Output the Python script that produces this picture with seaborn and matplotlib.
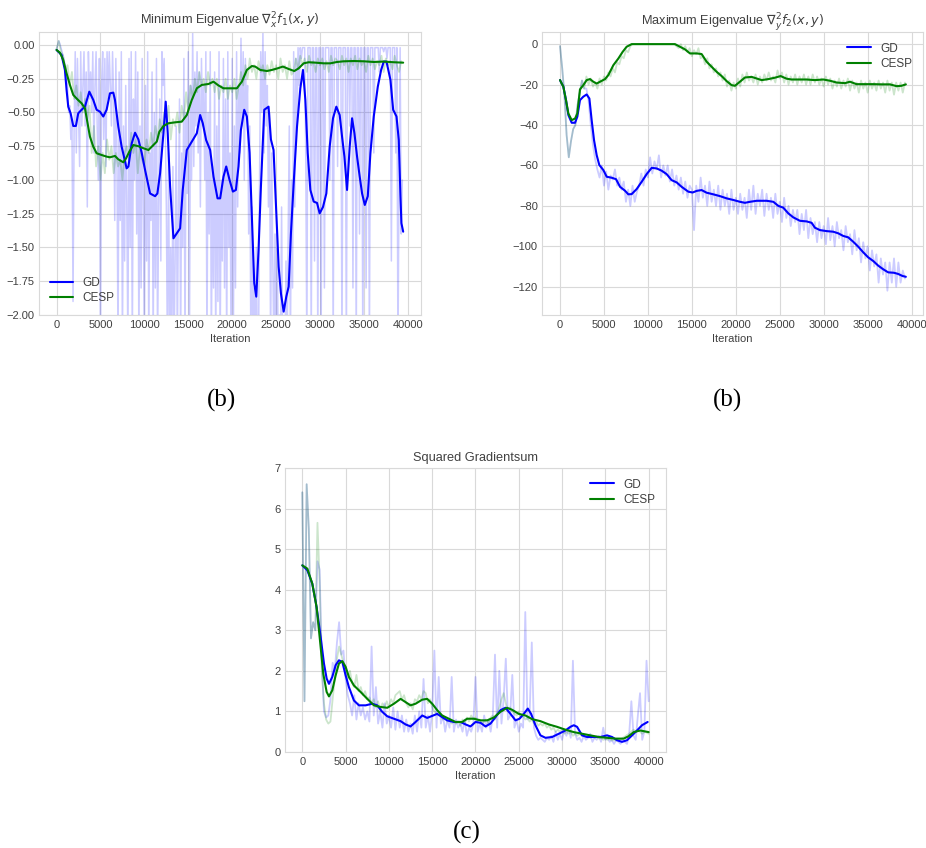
import numpy as np
import pandas as pd
import matplotlib
matplotlib.use("Agg")
import matplotlib.pyplot as plt
import matplotlib.ticker as mticker
import seaborn as sns

# ---------------------------------------------------------------------------
# Data
# ---------------------------------------------------------------------------
RAW_STEP = 250       # raw curves are logged every 250 iterations ...
RAW_STEP_FINE = 125  # ... except the minimum-eigenvalue GD run

# --- Minimum eigenvalue of the Hessian of f1 ---------------------------------
min_gd_raw = [
    -0.03, 0.0, 0.03, 0.01, -0.02, -0.05, -0.08, -0.12,
    -0.15, -0.25, -0.3, -0.5, -0.45, -0.7, -0.55, -1.9,
    -0.6, -0.05, -0.8, -0.1, -0.5, -0.9, -0.05, -0.6,
    -0.3, -0.05, -0.6, -0.2, -1.2, -0.05, -0.4, -0.2,
    -0.5, -0.05, -0.8, -0.3, -0.05, -0.6, -1.0, -0.1,
    -2.4, -0.3, -0.05, -0.7, -0.1, -0.9, -0.05, -0.4,
    -0.05, -0.3, -0.6, -0.05, -0.4, -1.3, -0.1, -0.8,
    -2.3, -0.2, -1.3, -0.05, -2.3, -0.6, -1.6, -0.3,
    -1.2, -2.3, -0.1, -1.5, -0.05, -2.3, -0.4, -1.0,
    -0.05, -1.4, -0.2, -2.3, -0.6, -1.8, -0.1, -1.2,
    -2.3, -0.3, -1.6, -0.05, -2.3, -0.8, -1.3, -0.2,
    -2.3, -0.5, -1.8, -0.1, -2.3, -1.2, -0.4, -1.6,
    -0.05, -0.3, -0.1, -0.6, -1.2, -2.3, -0.8, -2.3,
    -1.5, -2.3, -0.9, -2.3, -1.6, -0.6, -2.3, -1.2,
    -0.4, -2.3, -0.8, -1.5, -0.1, -2.3, -0.5, -1.1,
    -0.05, -2.4, -0.3, -1.0, 0.1, -0.9, -0.2, -0.6,
    -0.05, -0.8, -0.2, -1.2, -0.1, -0.6, -0.3, -1.0,
    -0.05, -2.3, -0.5, -1.4, -0.05, -2.3, -0.9, -1.8,
    -0.2, -2.3, -0.6, -1.9, -0.05, -2.3, -1.0, -1.6,
    -0.1, -1.8, -0.4, -2.3, -0.05, -1.5, -0.8, -2.3,
    -0.1, -2.3, -0.6, -1.8, -0.05, -1.2, -0.3, -0.8,
    0.05, -0.6, -0.05, -1.0, -0.1, -0.5, -0.3, -1.4,
    -0.6, -2.3, -1.2, -2.3, -1.8, -2.3, -1.5, -2.3,
    -2.3, -0.9, -0.05, -0.5, 0.12, -0.8, -0.05, -0.6,
    -0.3, -1.2, -0.5, -2.3, -0.8, -1.6, -2.3, -1.4,
    -2.3, -1.5, -2.3, -2.0, -2.3, -1.2, -2.3, -2.3,
    -2.3, -1.6, -2.3, -1.4, -0.6, -2.3, -1.0, -1.8,
    -0.05, -1.2, -0.1, -0.6, -0.02, -0.3, -0.02, -0.1,
    -0.02, -0.02, -0.02, -0.8, -2.3, -0.02, -0.02, -0.02,
    -2.3, -0.02, -0.02, -1.6, -0.02, -0.02, -2.3, -0.02,
    -0.02, -2.3, -0.02, -0.02, -1.8, -0.02, -0.02, -0.02,
    -0.02, -1.0, -0.02, -0.02, -2.3, -0.02, -0.02, -0.02,
    -0.9, -0.02, -0.02, -0.02, -2.3, -0.02, -0.02, -0.02,
    -2.3, -0.02, -0.02, -0.6, -0.02, -0.02, -1.8, -0.02,
    -0.02, -2.3, -0.02, -0.02, -1.4, -0.02, -0.02, -2.3,
    -0.02, -0.02, -1.8, -0.02, -0.02, -2.3, -0.02, -0.02,
    -0.02, -0.8, -0.02, -0.02, -0.02, -0.02, -0.2, -0.02,
    -0.02, -0.02, -0.05, -0.02, -0.02, -0.1, -0.02, -0.02,
    -0.02, -1.6, -0.02, -0.02, -0.02, -0.8, -0.02, -2.3,
    -1.0, -0.02, -1.4, -1.0,
]
min_cesp_raw = [
    -0.03, 0.03, -0.05, -0.08, -0.2, -0.15, -0.3, -0.2,
    -0.4, -0.3, -0.45, -0.35, -0.5, -0.4, -0.55, -0.45,
    -0.8, -0.6, -0.9, -0.75, -1.0, -0.8, -0.95, -0.7,
    -0.85, -0.75, -0.95, -0.8, -0.9, -0.85, -1.0, -0.8,
    -0.75, -0.85, -0.65, -0.8, -0.7, -0.95, -0.75, -0.85,
    -0.9, -0.7, -0.8, -0.65, -0.75, -0.6, -0.7, -0.55,
    -0.65, -0.5, -0.6, -0.45, -0.7, -0.55, -0.6, -0.5,
    -0.65, -0.45, -0.55, -0.35, -0.5, -0.3, -0.4, -0.25,
    -0.35, -0.2, -0.3, -0.25, -0.35, -0.2, -0.3, -0.25,
    -0.35, -0.25, -0.4, -0.3, -0.35, -0.25, -0.4, -0.3,
    -0.35, -0.25, -0.4, -0.3, -0.2, -0.3, -0.15, -0.25,
    -0.1, -0.2, -0.15, -0.25, -0.12, -0.2, -0.15, -0.25,
    -0.15, -0.22, -0.12, -0.2, -0.15, -0.25, -0.1, -0.2,
    -0.15, -0.25, -0.12, -0.22, -0.2, -0.1, -0.18, -0.08,
    -0.15, -0.1, -0.2, -0.08, -0.15, -0.12, -0.2, -0.1,
    -0.15, -0.1, -0.18, -0.12, -0.2, -0.08, -0.15, -0.1,
    -0.12, -0.18, -0.08, -0.15, -0.1, -0.2, -0.1, -0.15,
    -0.08, -0.18, -0.1, -0.15, -0.12, -0.2, -0.08, -0.15,
    -0.1, -0.18, -0.12, -0.15, -0.08, -0.2, -0.1, -0.15,
    -0.12, -0.18, -0.08, -0.15, -0.2, -0.12,
]
min_gd_iter = [
    0, 570, 950, 1140, 1330, 1600, 1900, 2200, 2470, 2850, 3230, 3730, 4180,
    4560, 4940, 5320, 5700, 6080, 6460, 6650, 7030, 7410, 7980, 8180, 8560,
    8940, 9320, 9700, 10080, 10650, 11220, 11480, 11790, 12170, 12430, 12660,
    12930, 13310, 13690, 14070, 14370, 14830, 15400, 15970, 16350, 16650,
    17030, 17490, 17870, 18330, 18630, 19010, 19320, 19700, 20080, 20420,
    20720, 20990, 21370, 21670, 21980, 22240, 22510, 22740, 23000, 23270,
    23650, 24140, 24410, 24710, 24940, 25290, 25550, 25860, 26160, 26430,
    26690, 27000, 27380, 27760, 28060, 28330, 28600, 28900, 29280, 29660,
    29960, 30340, 30720, 31100, 31480, 31860, 32240, 32510, 32780, 33080,
    33380, 33650, 33920, 34220, 34520, 34790, 35100, 35440, 35740, 36120,
    36580, 36960, 37260, 37570, 38020, 38330, 38710, 38970, 39160, 39270,
    39470,
]
min_gd_smooth = [
    -0.037, -0.074, -0.185, -0.333, -0.457, -0.506, -0.6, -0.6, -0.506,
    -0.48, -0.457, -0.346, -0.407, -0.48, -0.494, -0.53, -0.48, -0.358,
    -0.353, -0.407, -0.605, -0.753, -0.914, -0.9, -0.728, -0.65, -0.70,
    -0.80, -0.926, -1.1, -1.12, -1.1, -0.95, -0.654, -0.42, -0.654, -1.05,
    -1.432, -1.395, -1.358, -1.074, -0.778, -0.716, -0.654, -0.519, -0.58,
    -0.704, -0.778, -0.975, -1.136, -1.136, -0.975, -0.9, -1.0, -1.086,
    -1.074, -0.90, -0.63, -0.48, -0.53, -0.80, -1.27, -1.765, -1.864, -1.52,
    -1.05, -0.48, -0.457, -0.70, -0.778, -1.12, -1.642, -1.84, -1.975,
    -1.864, -1.79, -1.395, -1.025, -0.605, -0.321, -0.185, -0.407, -0.80,
    -1.074, -1.16, -1.17, -1.247, -1.2, -1.1, -0.753, -0.543, -0.457,
    -0.519, -0.679, -0.827, -1.074, -0.753, -0.543, -0.654, -0.827, -0.975,
    -1.1, -1.185, -1.12, -0.80, -0.53, -0.309, -0.185, -0.123, -0.123,
    -0.259, -0.48, -0.53, -0.704, -1.12, -1.32, -1.383,
]
min_cesp_iter = [
    0, 380, 760, 1140, 1520, 1900, 2360, 2850, 3230, 3500, 3800, 4180, 4560,
    5130, 5700, 6080, 6650, 7030, 7600, 7910, 8290, 8750, 9320, 9890, 10460,
    11030, 11410, 11710, 12170, 12740, 13500, 14260, 14830, 15400, 15970,
    16540, 17300, 17870, 18440, 19010, 19770, 20530, 21100, 21670, 22240,
    22620, 23190, 23950, 24520, 25170, 25780, 26430, 27070, 27570, 28140,
    28710, 29470, 30420, 31180, 31940, 32700, 33840, 34980, 36120, 37260,
    38400, 39470,
]
min_cesp_smooth = [
    -0.037, -0.057, -0.111, -0.21, -0.296, -0.37, -0.402, -0.432, -0.469,
    -0.568, -0.679, -0.753, -0.802, -0.815, -0.827, -0.832, -0.822, -0.847,
    -0.869, -0.84, -0.79, -0.741, -0.75, -0.765, -0.778, -0.741, -0.716,
    -0.642, -0.6, -0.58, -0.573, -0.568, -0.519, -0.407, -0.321, -0.296,
    -0.289, -0.272, -0.30, -0.321, -0.321, -0.321, -0.272, -0.185, -0.156,
    -0.16, -0.185, -0.193, -0.185, -0.173, -0.16, -0.178, -0.193, -0.173,
    -0.136, -0.128, -0.131, -0.136, -0.136, -0.126, -0.121, -0.119, -0.121,
    -0.126, -0.123, -0.128, -0.131,
]

# --- Maximum eigenvalue of the Hessian of f2 ---------------------------------
max_gd_raw = [
    -1, -12, -25, -45, -56, -48, -42, -40,
    -30, -24, -18, -22,
    -22, -28, -40, -50, -57, -62, -66, -60, -70, -63, -72, -65, -67, -62,
    -70, -66, -72, -68, -78, -72, -80, -70, -78, -73, -70, -64, -70, -62,
    -66, -56, -64, -58, -62, -55, -66, -60, -65, -60, -68, -62, -70, -65,
    -72, -66, -74, -68, -76, -70, -72, -92, -70, -78, -66, -76, -70, -80,
    -68, -78, -72, -80, -70, -82, -72, -80, -74, -84, -72, -82, -76, -84,
    -74, -82, -76, -86, -72, -82, -70, -84, -74, -80, -72, -85, -74, -82,
    -76, -86, -74, -84, -78, -88, -76, -86, -80, -90, -82, -88, -82, -94,
    -84, -92, -82, -96, -86, -94, -88, -98, -88, -96, -90, -99, -86, -97,
    -90, -100, -88, -96, -92, -102, -90, -98, -94, -104, -92, -102, -96,
    -108, -98, -106, -100, -112, -102, -110, -104, -118, -106, -114, -108,
    -122, -108, -118, -106, -120, -108, -118, -112, -116,
]
max_cesp_raw = [
    -1, -12, -25, -45, -56, -48, -42, -40,
    -30, -24, -18, -22,
    -16, -20, -17, -21, -19, -22, -17, -20, -16, -18, -14, -16, -12, -14,
    -9, -10, -6, -7, -3, -4, -1, 0, 0, 0, 0, 0, 0, 0, 0, 0, 0, 0, 0, 0, 0,
    0, 0, 0, 0, 0, 0, -1, -2, 0, -3, -1, -4, -2, -6, -3, -5, -2, -7, -6,
    -10, -7, -12, -10, -14, -12, -16, -14, -18, -15, -21, -18, -23, -19,
    -22, -17, -21, -15, -19, -14, -18, -16, -19, -15, -20, -16, -19, -15,
    -18, -14, -18, -16, -19, -13, -17, -14, -19, -15, -20, -16, -19, -15,
    -20, -16, -19, -15, -20, -16, -20, -15, -19, -16, -20, -17, -21, -16,
    -20, -17, -22, -18, -21, -17, -22, -18, -21, -17, -23, -18, -22, -19,
    -24, -18, -22, -19, -24, -18, -22, -19, -23, -18, -22, -19, -24, -18,
    -23, -19, -25, -19, -23, -19, -24, -19,
]
max_gd_iter = [
    0, 380, 680, 950, 1330, 1710, 1970, 2270, 2650, 3030, 3340, 3600, 3870,
    4170, 4470, 4930, 5310, 5880, 6370, 6830, 7390, 7770, 8150, 8720, 9290,
    9860, 10430, 11000, 11560, 12130, 12700, 13270, 13840, 14600, 15090,
    15550, 16110, 16680, 17440, 18200, 18960, 19720, 20470, 21040, 21610,
    22370, 23510, 24270, 24830, 25400, 25970, 26540, 27300, 28060, 28630,
    29000, 29570, 30330, 31090, 31660, 32230, 32800, 33370, 33930, 34500,
    35070, 35640, 36210, 36780, 37340, 37990, 38480, 38970, 39350,
]
max_gd_smooth = [
    -17.8, -21.1, -27.7, -35.1, -38.9, -38.9, -35.9, -27.7, -26.0, -24.9,
    -26.9, -37.6, -47.5, -54.9, -59.8, -62.3, -65.6, -66.1, -66.8, -70.6,
    -72.5, -74.3, -74.2, -71.7, -68.1, -64.3, -61.2, -61.5, -62.6, -64.3,
    -67.3, -68.4, -70.6, -73.0, -73.4, -72.6, -72.2, -73.5, -74.3, -75.2,
    -76.3, -77.1, -78.0, -78.5, -78.0, -77.5, -77.5, -78.0, -80.0, -80.9,
    -83.7, -85.7, -87.4, -87.7, -88.4, -90.8, -92.0, -92.5, -92.8, -93.6,
    -94.9, -95.6, -97.8, -100.2, -103.0, -105.5, -107.3, -109.6, -111.4,
    -112.9, -113.1, -113.7, -114.7, -115.1,
]
max_cesp_iter = [
    0, 380, 680, 950, 1330, 1710, 1970, 2270, 2650, 3030, 3410, 3790, 4170,
    4550, 5120, 5500, 6070, 6640, 7130, 7580, 8150, 13080, 13650, 14220,
    14790, 15550, 16110, 16680, 17250, 17820, 18390, 18960, 19530, 19910,
    20470, 21040, 21800, 22370, 22940, 23700, 24460, 25100, 25780, 26350,
    27110, 28060, 29000, 29950, 30710, 31470, 32420, 32990, 33740, 34690,
    35640, 36590, 37540, 38300, 38860, 39350,
]
max_cesp_smooth = [
    -17.8, -21.1, -27.7, -34.3, -37.6, -36.8, -34.3, -22.4, -20.3, -17.8,
    -17.3, -18.6, -19.5, -18.6, -17.3, -15.3, -10.4, -7.1, -3.8, -1.3, 0.0,
    0.0, -1.3, -2.6, -4.6, -4.6, -4.9, -8.7, -11.2, -13.7, -15.8, -18.3,
    -20.3, -20.6, -18.6, -16.5, -16.2, -17.0, -17.8, -17.3, -16.6, -15.8,
    -17.1, -17.5, -17.5, -17.5, -17.8, -17.5, -18.1, -19.0, -19.3, -18.6,
    -19.8, -19.8, -19.8, -19.9, -19.9, -20.8, -20.6, -19.9,
]

# --- Squared gradient sum ----------------------------------------------------
grad_gd_raw = [
    6.4, 1.25, 6.6, 5.5, 2.8, 3.2, 3.0, 4.7,
    4.5, 2.2, 1.0, 0.85, 0.9, 1.3, 2.2, 2.0,
    2.7, 3.2, 2.4, 2.5, 1.8, 1.4, 1.2, 0.9,
    1.4, 0.8, 1.2, 0.9, 1.1, 0.8, 1.0, 0.75,
    2.6, 0.9, 1.6, 0.7, 1.0, 0.6, 1.2, 0.7,
    0.9, 0.6, 1.1, 0.55, 1.0, 0.6, 0.9, 0.5,
    0.8, 0.5, 0.7, 0.45, 0.9, 0.5, 1.0, 0.6,
    1.8, 0.6, 0.9, 0.5, 1.0, 2.5, 0.6, 1.85,
    0.7, 0.9, 0.5, 0.8, 0.6, 1.85, 0.5, 0.8,
    0.6, 0.7, 0.5, 0.8, 0.4, 0.6, 0.5, 0.7,
    1.85, 0.5, 0.7, 0.5, 0.9, 0.6, 0.8, 0.5,
    0.9, 2.4, 0.6, 2.0, 0.7, 1.3, 2.3, 0.8,
    0.9, 1.9, 0.6, 0.8, 0.5, 0.7, 0.6, 3.45,
    0.8, 0.9, 2.7, 0.6, 0.4, 0.3, 0.35, 0.3,
    0.25, 0.35, 0.3, 0.4, 0.25, 0.5, 0.3, 0.45,
    0.3, 0.55, 0.4, 0.6, 0.35, 2.25, 0.45, 0.3,
    0.35, 0.25, 0.4, 0.3, 0.35, 0.45, 0.25, 0.35,
    0.3, 0.4, 0.25, 0.6, 0.3, 0.35, 0.25, 0.3,
    0.2, 0.3, 0.25, 0.2, 0.3, 0.25, 0.2, 0.45,
    1.25, 0.4, 0.3, 0.9, 1.45, 0.3, 0.5, 2.25, 1.25,
]
grad_cesp_raw = [
    6.4, 1.25, 6.6, 5.5, 2.8, 3.2, 3.0, 5.65,
    4.2, 2.0, 1.2, 0.8, 0.7, 0.75, 1.3, 1.8,
    2.3, 2.6, 2.4, 2.2, 2.0, 1.8, 2.0, 1.7,
    1.6, 1.9, 1.5, 1.6, 1.4, 1.5, 1.3, 1.35,
    1.2, 1.3, 1.1, 1.25, 1.0, 1.2, 1.1, 1.25,
    1.1, 1.3, 1.2, 1.4, 1.45, 1.5, 1.3, 1.4,
    1.2, 1.1, 1.2, 1.05, 1.3, 1.25, 1.4, 1.3,
    1.5, 1.45, 1.2, 1.3, 1.1, 1.0, 0.95, 0.9,
    0.9, 0.8, 0.85, 0.75, 0.8, 0.7, 0.75, 0.7,
    0.75, 0.65, 0.8, 0.7, 0.85, 0.75, 0.9, 0.8,
    0.85, 0.75, 0.8, 0.7, 0.75, 0.8, 0.7, 0.85,
    0.9, 0.8, 0.95, 1.1, 1.3, 1.45, 1.2, 1.0,
    1.1, 1.0, 0.95, 0.9, 1.0, 0.85, 0.9, 0.8,
    0.85, 0.75, 0.8, 0.7, 0.75, 0.65, 0.7, 0.65,
    0.7, 0.6, 0.65, 0.55, 0.6, 0.5, 0.55, 0.5,
    0.55, 0.45, 0.5, 0.45, 0.5, 0.4, 0.45, 0.4,
    0.45, 0.4, 0.42, 0.38, 0.4, 0.35, 0.38, 0.35,
    0.38, 0.33, 0.35, 0.3, 0.33, 0.3, 0.32, 0.28,
    0.3, 0.28, 0.32, 0.3, 0.35, 0.38, 0.42, 0.45,
    0.5, 0.55, 0.5, 0.55, 0.5, 0.45, 0.5, 0.48, 0.45,
]
grad_gd_iter = [
    0, 580, 1150, 1650, 2120, 2500, 2810, 3080, 3460, 3850, 4230, 4620, 5000,
    5380, 5960, 6540, 7310, 8080, 8650, 9230, 9810, 10580, 11350, 11920,
    12500, 13080, 13850, 14420, 15000, 15580, 16150, 16730, 17500, 18270,
    18850, 19420, 20000, 20580, 21150, 21730, 22310, 22880, 23460, 24040,
    24620, 25080, 25580, 26040, 26420, 26920, 27500, 28080, 28850, 29620,
    30380, 30960, 31350, 31730, 32310, 32880, 33650, 34420, 35190, 35770,
    36350, 36920, 37500, 38080, 38650, 39230, 39880,
]
grad_gd_smooth = [
    4.6, 4.48, 4.15, 3.57, 2.83, 2.18, 1.81, 1.68, 1.85, 2.14, 2.26, 2.22,
    1.89, 1.60, 1.27, 1.15, 1.15, 1.19, 1.15, 0.99, 0.88, 0.82, 0.76, 0.68,
    0.63, 0.74, 0.90, 0.84, 0.89, 0.94, 0.86, 0.78, 0.74, 0.74, 0.68, 0.63,
    0.74, 0.72, 0.63, 0.70, 0.86, 1.03, 1.09, 0.94, 0.78, 0.82, 0.94, 1.07,
    0.94, 0.66, 0.41, 0.35, 0.37, 0.45, 0.53, 0.62, 0.66, 0.62, 0.41, 0.37,
    0.37, 0.37, 0.41, 0.37, 0.29, 0.25, 0.29, 0.41, 0.53, 0.66, 0.74,
]
grad_cesp_iter = [
    0, 580, 1150, 1650, 2040, 2420, 2810, 3080, 3460, 3850, 4230, 4620, 5000,
    5380, 5960, 6730, 7500, 8270, 9040, 9810, 10580, 11350, 11920, 12500,
    13080, 13850, 14420, 15000, 15580, 16150, 16920, 17690, 18460, 19040,
    19810, 20580, 21350, 22120, 22880, 23650, 24230, 25000, 25770, 26540,
    27500, 28460, 29420, 30380, 31350, 32310, 33270, 34230, 35190, 36150,
    37120, 37690, 38270, 39040, 40000,
]
grad_cesp_smooth = [
    4.6, 4.52, 4.15, 3.57, 2.75, 1.93, 1.48, 1.37, 1.52, 1.89, 2.18, 2.24,
    2.10, 1.85, 1.64, 1.48, 1.31, 1.15, 1.11, 1.09, 1.19, 1.31, 1.23, 1.15,
    1.19, 1.29, 1.31, 1.19, 1.03, 0.90, 0.82, 0.74, 0.74, 0.82, 0.82, 0.78,
    0.78, 0.85, 0.99, 1.09, 1.04, 0.94, 0.90, 0.81, 0.76, 0.68, 0.62, 0.55,
    0.49, 0.45, 0.41, 0.37, 0.35, 0.33, 0.33, 0.39, 0.49, 0.53, 0.49,
]

# ---------------------------------------------------------------------------
# Style
# ---------------------------------------------------------------------------
sns.set_style("whitegrid", {
    "axes.edgecolor": "0.85",
    "grid.color": "0.85",
    "axes.linewidth": 1.2,
})
plt.rcParams["font.family"] = ["Liberation Sans", "DejaVu Sans"]
plt.rcParams["mathtext.fontset"] = "dejavusans"
plt.rcParams["font.size"] = 8
plt.rcParams["xtick.labelsize"] = 8
plt.rcParams["ytick.labelsize"] = 8
plt.rcParams["xtick.major.size"] = 0
plt.rcParams["ytick.major.size"] = 0
plt.rcParams["xtick.major.pad"] = 3.5
plt.rcParams["ytick.major.pad"] = 3
plt.rcParams["text.color"] = "0.25"
plt.rcParams["xtick.color"] = "0.25"
plt.rcParams["ytick.color"] = "0.25"
plt.rcParams["axes.labelcolor"] = "0.25"

GD_COLOR = "#0000ff"
CESP_COLOR = "#008000"
RAW_ALPHA = 0.2

W, H = 926, 848
fig = plt.figure(figsize=(W / 100, H / 100), dpi=100)


def px_axes(left, top, right, bottom):
    return fig.add_axes([left / W, 1 - bottom / H, (right - left) / W,
                         (bottom - top) / H])


def draw_panel(ax, gd_raw, cesp_raw, gd_it, gd_sm, cesp_it, cesp_sm,
               title, legend_loc, gd_step=RAW_STEP, raw_lw=1.3):
    gd_raw_it = np.arange(len(gd_raw)) * gd_step
    cesp_raw_it = np.arange(len(cesp_raw)) * RAW_STEP
    sns.lineplot(x=gd_raw_it, y=gd_raw, ax=ax, color=GD_COLOR,
                 alpha=RAW_ALPHA, lw=raw_lw, estimator=None, sort=False)
    sns.lineplot(x=cesp_raw_it, y=cesp_raw, ax=ax, color=CESP_COLOR,
                 alpha=RAW_ALPHA, lw=1.3, estimator=None, sort=False)
    sns.lineplot(x=gd_it, y=gd_sm, ax=ax, color=GD_COLOR, lw=1.5,
                 estimator=None, sort=False, label="GD")
    sns.lineplot(x=cesp_it, y=cesp_sm, ax=ax, color=CESP_COLOR, lw=1.5,
                 estimator=None, sort=False, label="CESP")
    ax.set_title(title, fontsize=9.2, pad=5)
    ax.set_xlabel("Iteration", fontsize=8, labelpad=3)
    ax.set_ylabel("")
    ax.legend(loc=legend_loc, frameon=False, fontsize=8.5, handlelength=2.0,
              labelspacing=0.3)
    ax.set_xticks(range(0, 40001, 5000))


ax1 = px_axes(39, 32, 421, 315)
draw_panel(ax1, min_gd_raw, min_cesp_raw, min_gd_iter, min_gd_smooth,
           min_cesp_iter, min_cesp_smooth,
           r"Minimum Eigenvalue $\nabla^2_x f_1(x, y)$", "lower left",
           gd_step=RAW_STEP_FINE, raw_lw=1.1)
ax1.set_xlim(-2000, 41500)
ax1.set_ylim(-2.0, 0.096)
ax1.set_yticks(np.arange(-2.0, 0.01, 0.25))
ax1.yaxis.set_major_formatter(
    mticker.FuncFormatter(lambda v, _: f"{v:.2f}".replace("-", "\u2212")))

ax2 = px_axes(542, 32, 923, 315)
draw_panel(ax2, max_gd_raw, max_cesp_raw, max_gd_iter, max_gd_smooth,
           max_cesp_iter, max_cesp_smooth,
           r"Maximum Eigenvalue $\nabla^2_y f_2(x, y)$", "upper right")
ax2.set_xlim(-2050, 41300)
ax2.set_ylim(-134, 6)
ax2.set_yticks(range(-120, 1, 20))

ax3 = px_axes(285, 468, 666, 752)
draw_panel(ax3, grad_gd_raw, grad_cesp_raw, grad_gd_iter, grad_gd_smooth,
           grad_cesp_iter, grad_cesp_smooth, "Squared Gradientsum",
           "upper right")
ax3.set_xlim(-2000, 42000)
ax3.set_ylim(0, 7)
ax3.set_yticks(range(0, 8))

# Sub-figure captions
cap_kw = dict(ha="center", va="center", fontsize=18, color="black",
              family=["Liberation Serif", "DejaVu Serif"])
fig.text(222 / W, 1 - 400 / H, "(b)", **cap_kw)
fig.text(727 / W, 1 - 400 / H, "(b)", **cap_kw)
fig.text(467 / W, 1 - 832 / H, "(c)", **cap_kw)

fig.savefig("out.png", dpi=100, facecolor="white")
